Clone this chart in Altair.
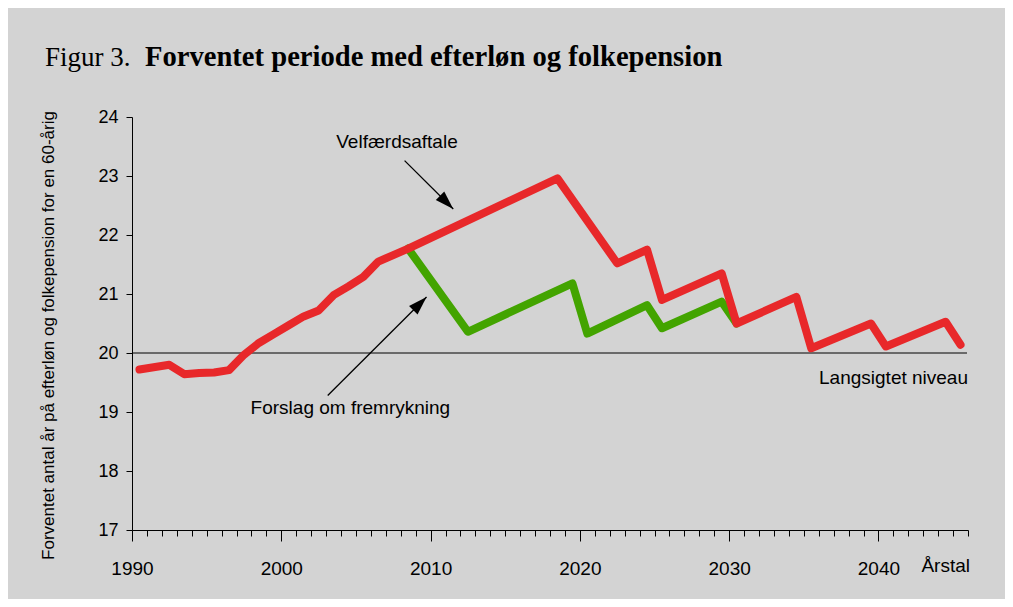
import altair as alt
import pandas as pd

# ---- data ----
red_years = [1990, 1992, 1993, 1994, 1995, 1996, 1997, 1998, 1999, 2000, 2001, 2002, 2003, 2004,
             2005, 2006, 2007, 2008, 2018, 2022, 2024, 2025, 2029, 2030, 2034, 2035, 2039, 2040,
             2044, 2045]
red_values = [19.72, 19.80, 19.64, 19.66, 19.67, 19.71, 19.97, 20.17, 20.32, 20.47, 20.62, 20.72,
              20.98, 21.13, 21.29, 21.55, 21.66, 21.77, 22.96, 21.52, 21.75, 20.90, 21.35, 20.50,
              20.95, 20.08, 20.50, 20.11, 20.53, 20.14]

green_years = [2008, 2012, 2019, 2020, 2024, 2025, 2029, 2030]
green_values = [21.77, 20.36, 21.18, 20.33, 20.81, 20.42, 20.87, 20.50]

level_value = [20.0]

# annotations (positions on the year axis / value axis)
label_texts = ["Velfærdsaftale", "Forslag om fremrykning", "Langsigtet niveau"]
label_x = [2007.75, 2004.63, 2046.0]
label_y = [23.57, 19.06, 19.57]
label_align = ["center", "center", "right"]

arrow_x1 = [2008.26, 2003.11]
arrow_y1 = [23.26, 19.28]
arrow_x2 = [2011.52, 2009.73]
arrow_y2 = [22.44, 20.95]
arrow_angle = [135, 45]

title_prefix = "Figur 3."
title_main = "Forventet periode med efterløn og folkepension"
y_title = "Forventet antal år på efterløn og folkepension for en 60-årig"
x_end_label = "Årstal"

# ---- frames ----
red_df = pd.DataFrame({"year": red_years, "y": red_values})
green_df = pd.DataFrame({"year": green_years, "y": green_values})
level_df = pd.DataFrame({"y": level_value})
lab_df = pd.DataFrame({"x": label_x, "y": label_y, "t": label_texts, "a": label_align})
arr_df = pd.DataFrame({"x": arrow_x1, "y": arrow_y1, "x2": arrow_x2, "y2": arrow_y2,
                       "ang": arrow_angle})

W, H = 836, 413
FONT = "Liberation Sans"
SERIF = "Liberation Serif"

xs = alt.Scale(domain=[1990, 2046], nice=False, zero=False)
ys = alt.Scale(domain=[17, 24], nice=False, zero=False)

major = "datum.value % 10 == 0 && datum.value <= 2040"
xaxis = alt.Axis(
    values=list(range(1990, 2047)), format="d",
    labelExpr=f"{major} ? datum.label : ''",
    tickSize={"condition": {"test": major, "value": 11}, "value": 6},
    title=None, grid=False, domainColor="black", tickColor="black", domainWidth=1,
    labelFont=FONT, labelFontSize=19, labelColor="black", labelPadding=18,
    labelOverlap=False, labelFlush=False,
)
yaxis = alt.Axis(
    values=list(range(17, 25)), format="d", tickSize=6, grid=False,
    domainColor="black", tickColor="black",
    labelFont=FONT, labelFontSize=18, labelColor="black", labelPadding=8,
    title=y_title, titleFont=FONT, titleFontSize=17, titleFontWeight="normal",
    titleColor="black", titleAngle=-90, titleX=-84, titleY=218,
    titleAlign="center", titleBaseline="middle",
)

X = lambda f="x": alt.X(f"{f}:Q", scale=xs, axis=xaxis)
Y = lambda f="y": alt.Y(f"{f}:Q", scale=ys, axis=yaxis)

level = alt.Chart(level_df).mark_rule(color="black", strokeWidth=1).encode(
    y=Y(), x=alt.value(0), x2=alt.value(W - 1)
)

green = alt.Chart(green_df).transform_calculate(x="datum.year + 0.5").mark_line(
    color="#43a400", strokeWidth=8, strokeCap="round", strokeJoin="round"
).encode(x=X(), y=Y())

red = alt.Chart(red_df).transform_calculate(x="datum.year + 0.5").mark_line(
    color="#e8282a", strokeWidth=8, strokeCap="round", strokeJoin="round"
).encode(x=X(), y=Y())

arrows = alt.Chart(arr_df).mark_rule(color="black", strokeWidth=1.3).encode(
    x=X(), y=Y(), x2="x2:Q", y2="y2:Q"
)
heads = alt.Chart(arr_df).mark_point(
    shape="M0,0L0.32,1L-0.32,1Z", size=1400, filled=True, color="black", opacity=1,
    strokeWidth=0
).encode(x=X("x2"), y=Y("y2"), angle=alt.Angle("ang:Q", scale=None))

labels_c = alt.Chart(lab_df).transform_filter("datum.a == 'center'").mark_text(
    font=FONT, fontSize=19, color="black", align="center", baseline="middle"
).encode(x=X(), y=Y(), text="t:N")
labels_r = alt.Chart(lab_df).transform_filter("datum.a == 'right'").mark_text(
    font=FONT, fontSize=19, color="black", align="right", baseline="middle"
).encode(x=X(), y=Y(), text="t:N")

t1 = alt.Chart(pd.DataFrame({"t": [title_prefix]})).mark_text(
    font=SERIF, fontSize=27, color="black", align="left", baseline="alphabetic"
).encode(x=alt.value(-87), y=alt.value(-51), text="t:N")
t2 = alt.Chart(pd.DataFrame({"t": [title_main]})).mark_text(
    font=SERIF, fontSize=28.6, fontWeight="bold", color="black", align="left",
    baseline="alphabetic"
).encode(x=alt.value(13), y=alt.value(-51), text="t:N")
t3 = alt.Chart(pd.DataFrame({"t": [x_end_label]})).mark_text(
    font=FONT, fontSize=19, color="black", align="right", baseline="middle"
).encode(x=alt.value(W + 2), y=alt.value(H + 36), text="t:N")

chart = alt.layer(level, green, red, arrows, heads, labels_c, labels_r, t1, t2, t3).properties(
    width=W, height=H,
    autosize=alt.AutoSizeParams(type="none"),
    padding={"left": 124, "top": 109, "right": 37, "bottom": 69},
    background="#d3d3d3",
).configure_view(stroke=None)

chart.save("out.html", embed_options={"renderer": "svg", "actions": False})
